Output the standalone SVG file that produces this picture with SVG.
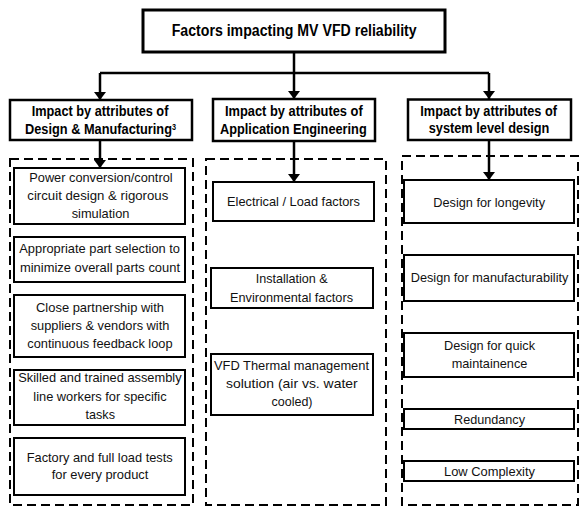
<svg xmlns="http://www.w3.org/2000/svg" width="581" height="506" viewBox="0 0 581 506">
<style>
.bg{fill:#fff}
.tb{fill:#fff;stroke:#000;stroke-width:3}
.hb{fill:#fff;stroke:#000;stroke-width:2.5}
.ib{fill:#fff;stroke:#000;stroke-width:2}
.db{fill:none;stroke:#000;stroke-width:2;stroke-dasharray:9,5}
.con{fill:none;stroke:#000;stroke-width:2.5}
.t{font-family:"Liberation Sans",Arial,sans-serif;font-weight:bold;font-size:16px;fill:#000}
.h{font-family:"Liberation Sans",Arial,sans-serif;font-weight:bold;font-size:15px;fill:#000}
.sup{font-size:8.5px}
.b{font-family:"Liberation Sans",Arial,sans-serif;font-size:13.5px;fill:#111}
</style>
<defs>
<marker id="ah" markerUnits="userSpaceOnUse" markerWidth="8" markerHeight="12" viewBox="0 0 8 12" refX="8" refY="6" orient="auto">
<path d="M0,0 L8,6 L0,12 z" fill="#000"/>
</marker>
</defs>
<rect class="bg" x="0" y="0" width="581" height="506"/>

<g id="dashed-groups">
<rect class="db" x="10" y="159" width="183" height="346"/>
<rect class="db" x="206" y="159" width="180" height="346"/>
<rect class="db" x="402" y="156" width="176" height="349"/>
</g>

<g id="connectors">
<line class="con" x1="294" y1="52" x2="294" y2="73"/>
<polyline class="con" points="100,73 489,73"/>
<line class="con" x1="100" y1="73" x2="100" y2="100" marker-end="url(#ah)"/>
<line class="con" x1="294" y1="73" x2="294" y2="99" marker-end="url(#ah)"/>
<line class="con" x1="489" y1="73" x2="489" y2="99" marker-end="url(#ah)"/>
<line class="con" x1="100" y1="140" x2="100" y2="168" marker-end="url(#ah)"/>
<line class="con" x1="294" y1="141" x2="294" y2="182" marker-end="url(#ah)"/>
<line class="con" x1="489" y1="140" x2="489" y2="180" marker-end="url(#ah)"/>
</g>

<g id="title">
<rect class="tb" x="143" y="10" width="302" height="42"/>
<text class="t" x="171.7" y="36" textLength="245" lengthAdjust="spacingAndGlyphs">Factors impacting MV VFD reliability</text>
</g>

<g id="header-design">
<rect class="hb" x="10" y="100" width="182" height="40"/>
<text class="h" x="31.7" y="116" textLength="136.7" lengthAdjust="spacingAndGlyphs">Impact by attributes of</text>
<text class="h" x="25" y="134" textLength="151" lengthAdjust="spacingAndGlyphs">Design &amp; Manufacturing<tspan class="sup" dy="-4">3</tspan></text>
</g>

<g id="header-application">
<rect class="hb" x="213" y="99" width="162" height="42"/>
<text class="h" x="225" y="116" textLength="137.7" lengthAdjust="spacingAndGlyphs">Impact by attributes of</text>
<text class="h" x="220" y="133.5" textLength="146.7" lengthAdjust="spacingAndGlyphs">Application Engineering</text>
</g>

<g id="header-system">
<rect class="hb" x="408" y="99.5" width="163" height="40.5"/>
<text class="h" x="420.3" y="116" textLength="136.7" lengthAdjust="spacingAndGlyphs">Impact by attributes of</text>
<text class="h" x="428.7" y="133.3" textLength="120.7" lengthAdjust="spacingAndGlyphs">system level design</text>
</g>

<g id="d1">
<rect class="ib" x="14" y="168" width="171" height="56"/>
<text class="b" x="29.3" y="181.7" textLength="143.3" lengthAdjust="spacingAndGlyphs">Power conversion/control</text>
<text class="b" x="27.3" y="200" textLength="141" lengthAdjust="spacingAndGlyphs">circuit design &amp; rigorous</text>
<text class="b" x="71.7" y="218.3" textLength="57.7" lengthAdjust="spacingAndGlyphs">simulation</text>
</g>
<g id="d2">
<rect class="ib" x="14" y="237" width="171" height="45"/>
<text class="b" x="19.3" y="252.7" textLength="160.7" lengthAdjust="spacingAndGlyphs">Appropriate part selection to</text>
<text class="b" x="20" y="272.3" textLength="160" lengthAdjust="spacingAndGlyphs">minimize overall parts count</text>
</g>
<g id="d3">
<rect class="ib" x="14" y="295" width="171" height="62"/>
<text class="b" x="36" y="311.7" textLength="128" lengthAdjust="spacingAndGlyphs">Close partnership with</text>
<text class="b" x="30.7" y="330" textLength="138.7" lengthAdjust="spacingAndGlyphs">suppliers &amp; vendors with</text>
<text class="b" x="27.3" y="348.3" textLength="145.3" lengthAdjust="spacingAndGlyphs">continuous feedback loop</text>
</g>
<g id="d4">
<rect class="ib" x="14" y="370" width="171" height="55"/>
<text class="b" x="18.3" y="381.7" textLength="163.3" lengthAdjust="spacingAndGlyphs">Skilled and trained assembly</text>
<text class="b" x="33.3" y="400.7" textLength="133.3" lengthAdjust="spacingAndGlyphs">line workers for specific</text>
<text class="b" x="85.5" y="419.3" textLength="29.5" lengthAdjust="spacingAndGlyphs">tasks</text>
</g>
<g id="d5">
<rect class="ib" x="14" y="438" width="171" height="57"/>
<text class="b" x="26.7" y="461.7" textLength="146" lengthAdjust="spacingAndGlyphs">Factory and full load tests</text>
<text class="b" x="51.7" y="479.3" textLength="96.7" lengthAdjust="spacingAndGlyphs">for every product</text>
</g>

<g id="a1">
<rect class="ib" x="213" y="182" width="161" height="39"/>
<text class="b" x="227" y="206" textLength="133" lengthAdjust="spacingAndGlyphs">Electrical / Load factors</text>
</g>
<g id="a2">
<rect class="ib" x="211" y="268" width="162" height="40"/>
<text class="b" x="255.7" y="283.3" textLength="72" lengthAdjust="spacingAndGlyphs">Installation &amp;</text>
<text class="b" x="230" y="301.7" textLength="123" lengthAdjust="spacingAndGlyphs">Environmental factors</text>
</g>
<g id="a3">
<rect class="ib" x="211" y="354" width="162" height="61"/>
<text class="b" x="214" y="370" textLength="155" lengthAdjust="spacingAndGlyphs">VFD Thermal management</text>
<text class="b" x="226" y="388" textLength="131.7" lengthAdjust="spacingAndGlyphs">solution (air vs. water</text>
<text class="b" x="271.5" y="406" textLength="41" lengthAdjust="spacingAndGlyphs">cooled)</text>
</g>

<g id="s1">
<rect class="ib" x="404" y="180" width="170" height="43"/>
<text class="b" x="433.3" y="206.7" textLength="111.7" lengthAdjust="spacingAndGlyphs">Design for longevity</text>
</g>
<g id="s2">
<rect class="ib" x="404" y="255" width="170" height="46"/>
<text class="b" x="410.7" y="281.7" textLength="157.7" lengthAdjust="spacingAndGlyphs">Design for manufacturability</text>
</g>
<g id="s3">
<rect class="ib" x="404" y="333" width="170" height="44"/>
<text class="b" x="444" y="350" textLength="91" lengthAdjust="spacingAndGlyphs">Design for quick</text>
<text class="b" x="451.7" y="368.3" textLength="75.7" lengthAdjust="spacingAndGlyphs">maintainence</text>
</g>
<g id="s4">
<rect class="ib" x="404" y="409" width="170" height="20"/>
<text class="b" x="454" y="424" textLength="71" lengthAdjust="spacingAndGlyphs">Redundancy</text>
</g>
<g id="s5">
<rect class="ib" x="404" y="461" width="170" height="20"/>
<text class="b" x="444" y="476" textLength="91" lengthAdjust="spacingAndGlyphs">Low Complexity</text>
</g>
</svg>
